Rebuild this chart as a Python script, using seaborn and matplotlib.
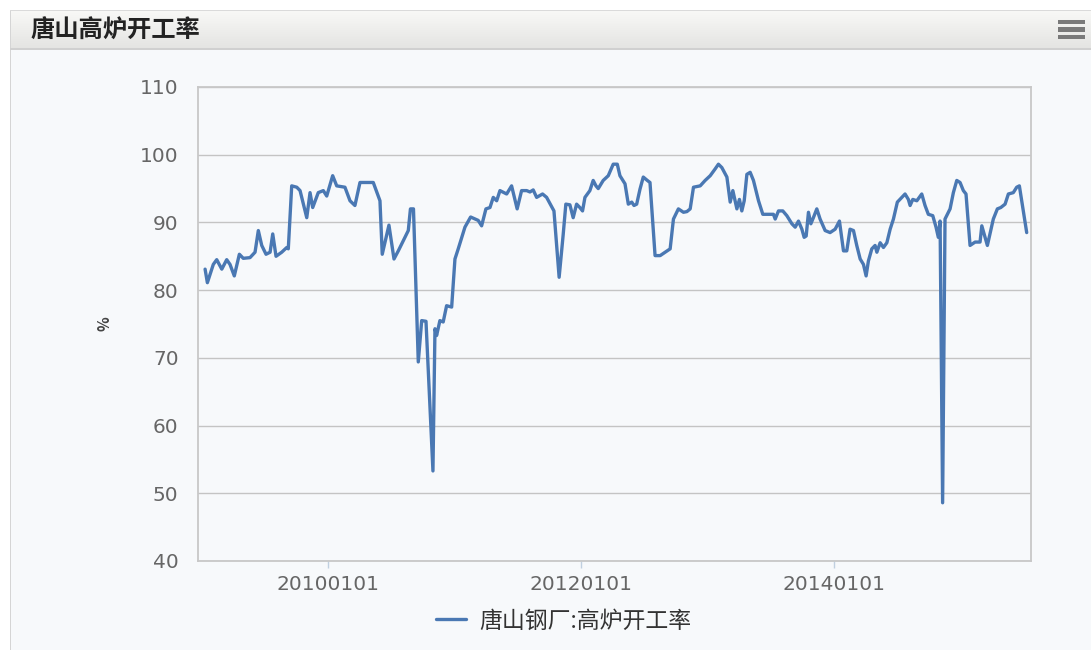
import numpy as np
import pandas as pd
import matplotlib
matplotlib.use("Agg")
import matplotlib.pyplot as plt
import matplotlib.dates as mdates
from matplotlib.patches import Rectangle
import seaborn as sns

# ---------------- data ----------------
title = "唐山高炉开工率"
series_name = "唐山钢厂:高炉开工率"
y_label = "%"
y_ticks = [40, 50, 60, 70, 80, 90, 100, 110]
x_tick_dates = ["2010-01-01", "2012-01-01", "2014-01-01"]

# observation dates as decimal years
date_years = [
    2009.028, 2009.046, 2009.093, 2009.120, 2009.160, 2009.199, 2009.225, 2009.259,
    2009.299, 2009.330, 2009.383, 2009.423, 2009.449, 2009.476, 2009.510, 2009.542,
    2009.563, 2009.589, 2009.634, 2009.674, 2009.686, 2009.713, 2009.753, 2009.779,
    2009.832, 2009.858, 2009.879, 2009.923, 2009.963, 2009.990, 2010.037, 2010.069,
    2010.134, 2010.174, 2010.213, 2010.253, 2010.358, 2010.411, 2010.429, 2010.482,
    2010.522, 2010.556, 2010.635, 2010.652, 2010.676, 2010.714, 2010.741, 2010.775,
    2010.830, 2010.846, 2010.859, 2010.885, 2010.911, 2010.938, 2010.978, 2011.004,
    2011.030, 2011.083, 2011.128, 2011.188, 2011.215, 2011.249, 2011.281, 2011.307,
    2011.334, 2011.360, 2011.413, 2011.452, 2011.496, 2011.531, 2011.571, 2011.597,
    2011.623, 2011.650, 2011.697, 2011.729, 2011.787, 2011.828, 2011.860, 2011.881,
    2011.913, 2011.939, 2011.966, 2011.992, 2012.013, 2012.032, 2012.071, 2012.097,
    2012.119, 2012.137, 2012.176, 2012.216, 2012.255, 2012.287, 2012.308, 2012.348,
    2012.374, 2012.401, 2012.419, 2012.440, 2012.466, 2012.492, 2012.524, 2012.545,
    2012.585, 2012.625, 2012.664, 2012.704, 2012.730, 2012.769, 2012.809, 2012.836,
    2012.862, 2012.888, 2012.941, 2012.980, 2013.020, 2013.059, 2013.085, 2013.112,
    2013.152, 2013.178, 2013.199, 2013.231, 2013.251, 2013.270, 2013.289, 2013.310,
    2013.336, 2013.362, 2013.402, 2013.436, 2013.494, 2013.520, 2013.534, 2013.560,
    2013.594, 2013.626, 2013.666, 2013.692, 2013.718, 2013.745, 2013.763, 2013.779,
    2013.797, 2013.816, 2013.836, 2013.863, 2013.889, 2013.929, 2013.968, 2014.008,
    2014.042, 2014.074, 2014.100, 2014.126, 2014.153, 2014.179, 2014.206, 2014.232,
    2014.253, 2014.271, 2014.298, 2014.324, 2014.338, 2014.364, 2014.390, 2014.417,
    2014.443, 2014.469, 2014.500, 2014.535, 2014.561, 2014.587, 2014.601, 2014.622,
    2014.654, 2014.674, 2014.693, 2014.719, 2014.745, 2014.780, 2014.806, 2014.824,
    2014.838, 2014.858, 2014.877, 2014.917, 2014.943, 2014.970, 2014.996, 2015.022,
    2015.043, 2015.075, 2015.115, 2015.154, 2015.168, 2015.186, 2015.212, 2015.259,
    2015.291, 2015.318, 2015.352, 2015.378, 2015.417, 2015.444, 2015.465, 2015.523,
]

rate = [
    83.1, 81.1, 83.8, 84.5, 83.1, 84.5, 83.8, 82.1,
    85.3, 84.7, 84.8, 85.6, 88.8, 86.6, 85.3, 85.6,
    88.3, 85.0, 85.6, 86.3, 86.1, 95.4, 95.2, 94.7,
    90.7, 94.4, 92.2, 94.4, 94.7, 93.9, 96.9, 95.4,
    95.2, 93.2, 92.5, 95.9, 95.9, 93.2, 85.3, 89.6,
    84.6, 85.8, 88.8, 92.0, 92.0, 69.4, 75.5, 75.4,
    53.3, 74.3, 73.3, 75.5, 75.3, 77.7, 77.5, 84.6,
    86.1, 89.3, 90.8, 90.3, 89.5, 92.0, 92.2, 93.7,
    93.2, 94.7, 94.2, 95.4, 92.0, 94.7, 94.7, 94.5,
    94.8, 93.7, 94.2, 93.7, 91.7, 81.9, 88.2, 92.7,
    92.6, 90.7, 92.7, 92.2, 91.7, 93.7, 94.7, 96.2,
    95.4, 95.0, 96.2, 96.9, 98.6, 98.6, 96.9, 95.7,
    92.7, 93.0, 92.5, 92.7, 94.9, 96.7, 96.2, 95.9,
    85.1, 85.1, 85.6, 86.1, 90.5, 92.0, 91.5, 91.6,
    92.0, 95.2, 95.4, 96.2, 96.9, 97.9, 98.6, 98.1,
    96.7, 93.0, 94.7, 92.0, 93.4, 91.7, 93.2, 97.1,
    97.4, 96.2, 93.2, 91.2, 91.2, 91.2, 90.5, 91.7,
    91.7, 91.0, 89.8, 89.3, 90.2, 89.0, 87.8, 88.0,
    91.5, 89.8, 90.7, 92.0, 90.5, 88.8, 88.5, 89.0,
    90.2, 85.8, 85.8, 89.0, 88.8, 86.6, 84.6, 83.8,
    82.1, 84.3, 86.1, 86.6, 85.6, 87.0, 86.3, 87.0,
    89.0, 90.5, 93.0, 93.7, 94.2, 93.4, 92.5, 93.4,
    93.2, 93.7, 94.2, 92.5, 91.2, 91.0, 89.3, 87.8,
    90.2, 48.6, 90.5, 92.0, 94.4, 96.2, 95.9, 94.7,
    94.2, 86.6, 87.1, 87.1, 89.5, 88.3, 86.6, 90.5,
    92.0, 92.2, 92.7, 94.2, 94.4, 95.2, 95.4, 88.5,
]

x_range_years = (2008.972, 2015.557)


def years_to_datetime(values):
    out = []
    for v in values:
        yr = int(np.floor(v))
        start = pd.Timestamp(year=yr, month=1, day=1)
        end = pd.Timestamp(year=yr + 1, month=1, day=1)
        out.append(start + (end - start) * (v - yr))
    return out


df = pd.DataFrame({"date": years_to_datetime(date_years), series_name: rate})

# ---------------- style ----------------
sns.set_theme(style="white")
plt.rcParams["font.family"] = ["Noto Sans CJK SC", "DejaVu Sans"]

LINE = "#4a78b3"
GRID = "#C4C4C4"
TXT = "#666666"
PANEL = "#F7F9FB"

fig = plt.figure(figsize=(10.91, 6.5), dpi=100)
fig.patch.set_facecolor("white")
W, H = 1091, 650

def fx(px):
    return px / W

def fy(py):
    return 1 - py / H

# panel background and borders
fig.add_artist(Rectangle((fx(10), 0), 1 - fx(10), fy(11), transform=fig.transFigure,
                         facecolor=PANEL, edgecolor="none", zorder=0))
fig.add_artist(Rectangle((fx(10), 0), fx(1.2), fy(11), transform=fig.transFigure,
                         facecolor="#D5D5D5", edgecolor="none", zorder=1))

# header with gradient
hax = fig.add_axes([fx(11), fy(49), 1 - fx(11), (49 - 11) / H], zorder=1)
grad = np.linspace(0, 1, 64).reshape(-1, 1)
hax.imshow(grad, aspect="auto", cmap=matplotlib.colors.LinearSegmentedColormap.from_list(
    "hdr", ["#F8F8F6", "#E4E4E2"]), extent=[0, 1, 0, 1], origin="upper")
hax.set_xlim(0, 1)
hax.set_ylim(0, 1)
hax.axis("off")
fig.add_artist(Rectangle((fx(10), fy(49.5)), 1 - fx(10), 1.2 / H, transform=fig.transFigure,
                         facecolor="#D0D0D0", edgecolor="none", zorder=2))
fig.add_artist(Rectangle((fx(10), fy(11)), 1 - fx(10), 1.2 / H, transform=fig.transFigure,
                         facecolor="#DADADA", edgecolor="none", zorder=2))
fig.text(fx(30), fy(31), title, fontsize=17.5, fontweight="bold", color="#222222",
         ha="left", va="center", zorder=3)
# menu icon
for yy in (20, 27.5, 35):
    fig.add_artist(Rectangle((fx(1058), fy(yy + 4)), fx(27), 4 / H, transform=fig.transFigure,
                             facecolor="#7A7A7A", edgecolor="none", zorder=3))

# main axes
ax = fig.add_axes([fx(198), fy(561), fx(1031) - fx(198), (561 - 87) / H], zorder=2)
ax.set_facecolor(PANEL)
sns.lineplot(data=df, x="date", y=series_name, ax=ax, color=LINE, linewidth=2.4,
             label=series_name, legend=False)

ax.set_xlim(years_to_datetime([x_range_years[0]])[0], years_to_datetime([x_range_years[1]])[0])
ax.set_ylim(40, 110)
ax.set_yticks(y_ticks)
ax.set_xticks(pd.to_datetime(x_tick_dates))
ax.xaxis.set_major_formatter(mdates.DateFormatter("%Y%m%d"))

ax.grid(axis="y", color=GRID, linewidth=1.0)
ax.grid(axis="x", visible=False)
for s in ax.spines.values():
    s.set_color("#C8C8C8")
    s.set_linewidth(1.3)

ax.tick_params(axis="y", length=0, pad=14, labelsize=14.5, labelcolor=TXT)
ax.tick_params(axis="x", length=5, width=1, color="#C0D0E0", pad=5, labelsize=14.5,
               labelcolor=TXT, direction="out", bottom=True)
for lab in ax.get_xticklabels() + ax.get_yticklabels():
    lab.set_family("DejaVu Sans")

ax.set_xlabel("")
ax.set_ylabel(y_label, fontsize=11, color="#444444", rotation=90, fontweight="bold")
ax.yaxis.set_label_coords((113 - 198) / (1031 - 198), 0.5)

handles, labels = ax.get_legend_handles_labels()
fig.legend(handles, labels, loc="center", bbox_to_anchor=(fx(564), fy(621)),
           frameon=False, fontsize=16.5, handlelength=1.3, handletextpad=0.6,
           labelcolor="#333333")

fig.savefig("out.png", dpi=100, facecolor=fig.get_facecolor())
